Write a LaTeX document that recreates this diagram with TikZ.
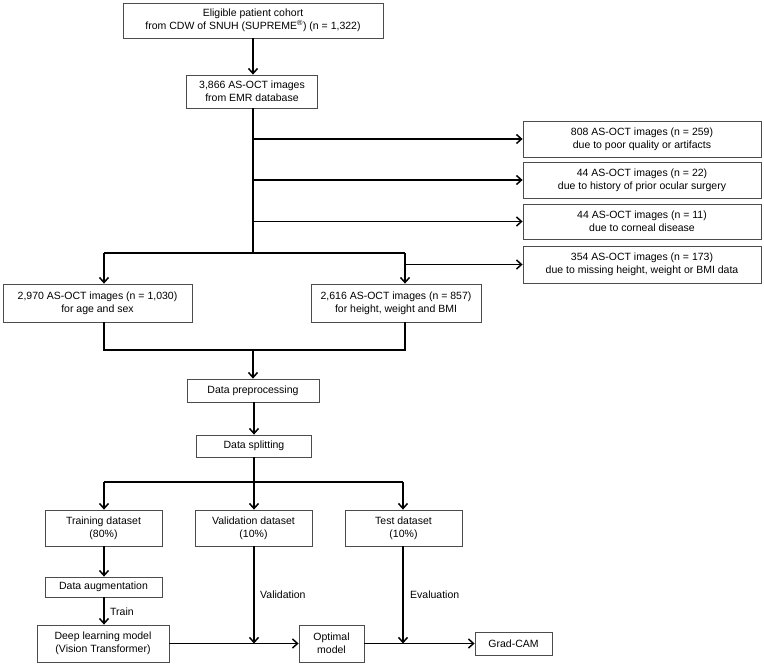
\documentclass[tikz,border=0pt]{standalone}
\usepackage{fontspec}
\setmainfont{Liberation Sans}
\usetikzlibrary{arrows.meta}
\begin{document}
\begin{tikzpicture}[x=1pt,y=-1pt,
  box/.style={draw=black!70,line width=0.8pt,fill=white,align=center,inner sep=0pt,
    font=\fontsize{10.5}{13}\selectfont},
  conn/.style={line width=1.8pt,black},
  arr/.style={conn,-{Straight Barb[length=5pt,width=9pt,line width=1.5pt]}},
  lbl/.style={anchor=west,inner sep=0pt,font=\fontsize{10.5}{13}\selectfont}]
\useasboundingbox (0,0) rectangle (764,664);
% boxes
\node[box,minimum width=260pt,minimum height=35pt] (top) at (253,20.5) {Eligible patient cohort\\from CDW of SNUH (SUPREME\textsuperscript{®}) (n = 1,322)};
\node[box,minimum width=131pt,minimum height=33pt] (emr) at (252,91.5) {3,866 AS-OCT images\\from EMR database};
\node[box,minimum width=238pt,minimum height=36pt] (ex1) at (642,139) {808 AS-OCT images (n = 259)\\due to poor quality or artifacts};
\node[box,minimum width=238pt,minimum height=36pt] (ex2) at (642,180) {44 AS-OCT images (n = 22)\\due to history of prior ocular surgery};
\node[box,minimum width=238pt,minimum height=35pt] (ex3) at (642,221.5) {44 AS-OCT images (n = 11)\\due to corneal disease};
\node[box,minimum width=238pt,minimum height=37pt] (ex4) at (642,264.5) {354 AS-OCT images (n = 173)\\due to missing height, weight or BMI data};
\node[box,minimum width=189pt,minimum height=38pt] (age) at (97.5,303) {2,970 AS-OCT images (n = 1,030)\\for age and sex};
\node[box,minimum width=170pt,minimum height=38pt] (hw) at (396,303) {2,616 AS-OCT images (n = 857)\\for height, weight and BMI};
\node[box,minimum width=132pt,minimum height=23pt] (prep) at (253,390.5) {Data preprocessing};
\node[box,minimum width=115pt,minimum height=22pt] (split) at (254,446) {Data splitting};
\node[box,minimum width=117pt,minimum height=36pt] (train) at (103.5,528) {Training dataset\\(80\%)};
\node[box,minimum width=117pt,minimum height=36pt] (val) at (253.5,528) {Validation dataset\\(10\%)};
\node[box,minimum width=117pt,minimum height=36pt] (test) at (403.5,528) {Test dataset\\(10\%)};
\node[box,minimum width=117pt,minimum height=20pt] (aug) at (103.5,587) {Data augmentation};
\node[box,minimum width=132pt,minimum height=37pt] (dl) at (103,643.5) {Deep learning model\\(Vision Transformer)};
\node[box,minimum width=65pt,minimum height=37pt] (opt) at (331.5,643.5) {Optimal\\model};
\node[box,minimum width=77pt,minimum height=23pt] (grad) at (513.5,643.5) {Grad-CAM};
% junction coordinates
\coordinate (j1) at (253,253);
\coordinate (jl) at (104,253);
\coordinate (jr) at (405,253);
\coordinate (e1) at (253,139);
\coordinate (e2) at (253,180);
\coordinate (e3) at (253,221.5);
\coordinate (e4) at (405,264.5);
\coordinate (m1) at (104,350);
\coordinate (m2) at (405,350);
\coordinate (mc) at (253,350);
\coordinate (s1) at (254,482);
\coordinate (sl) at (104,482);
\coordinate (sr) at (403,482);
\coordinate (sv) at (254,482);
\coordinate (vj) at (254,643.5);
\coordinate (tj) at (403,643.5);
\coordinate (tx) at (104,0);
\coordinate (cx) at (253,0);
% connectors
\draw[arr] (top.south -| cx) -- (emr.north -| cx);
\draw[conn] (emr.south -| cx) -- (j1);
\draw[conn] (jl) -- (jr);
\draw[arr] (jl) -- (jl |- age.north);
\draw[arr] (jr) -- (jr |- hw.north);
\draw[arr] (e1) -- (ex1.west);
\draw[arr] (e2) -- (ex2.west);
\draw[arr] (e3) -- (ex3.west);
\draw[arr] (e4) -- (ex4.west);
\draw[conn] (age.south -| m1) -- (m1) -- (m2) -- (hw.south -| m2);
\draw[arr] (mc) -- (mc |- prep.north);
\draw[arr] (prep.south -| sv) -- (split.north -| sv);
\draw[conn] (split.south -| sv) -- (s1);
\draw[conn] (sl) -- (sr);
\draw[arr] (sl) -- (sl |- train.north);
\draw[arr] (sv) -- (sv |- val.north);
\draw[arr] (sr) -- (sr |- test.north);
\draw[arr] (train.south -| tx) -- (aug.north -| tx);
\draw[arr] (aug.south -| tx) -- (dl.north -| tx);
\draw[arr] (dl.east) -- (opt.west);
\draw[arr] (val.south -| vj) -- (vj);
\draw[arr] (test.south -| tj) -- (tj);
\draw[arr] (opt.east) -- (grad.west);
% labels
\node[lbl] (ltrain) at (110,612) {Train};
\node[lbl] (lval) at (260,595) {Validation};
\node[lbl] (leval) at (410,595) {Evaluation};
\end{tikzpicture}
\end{document}
